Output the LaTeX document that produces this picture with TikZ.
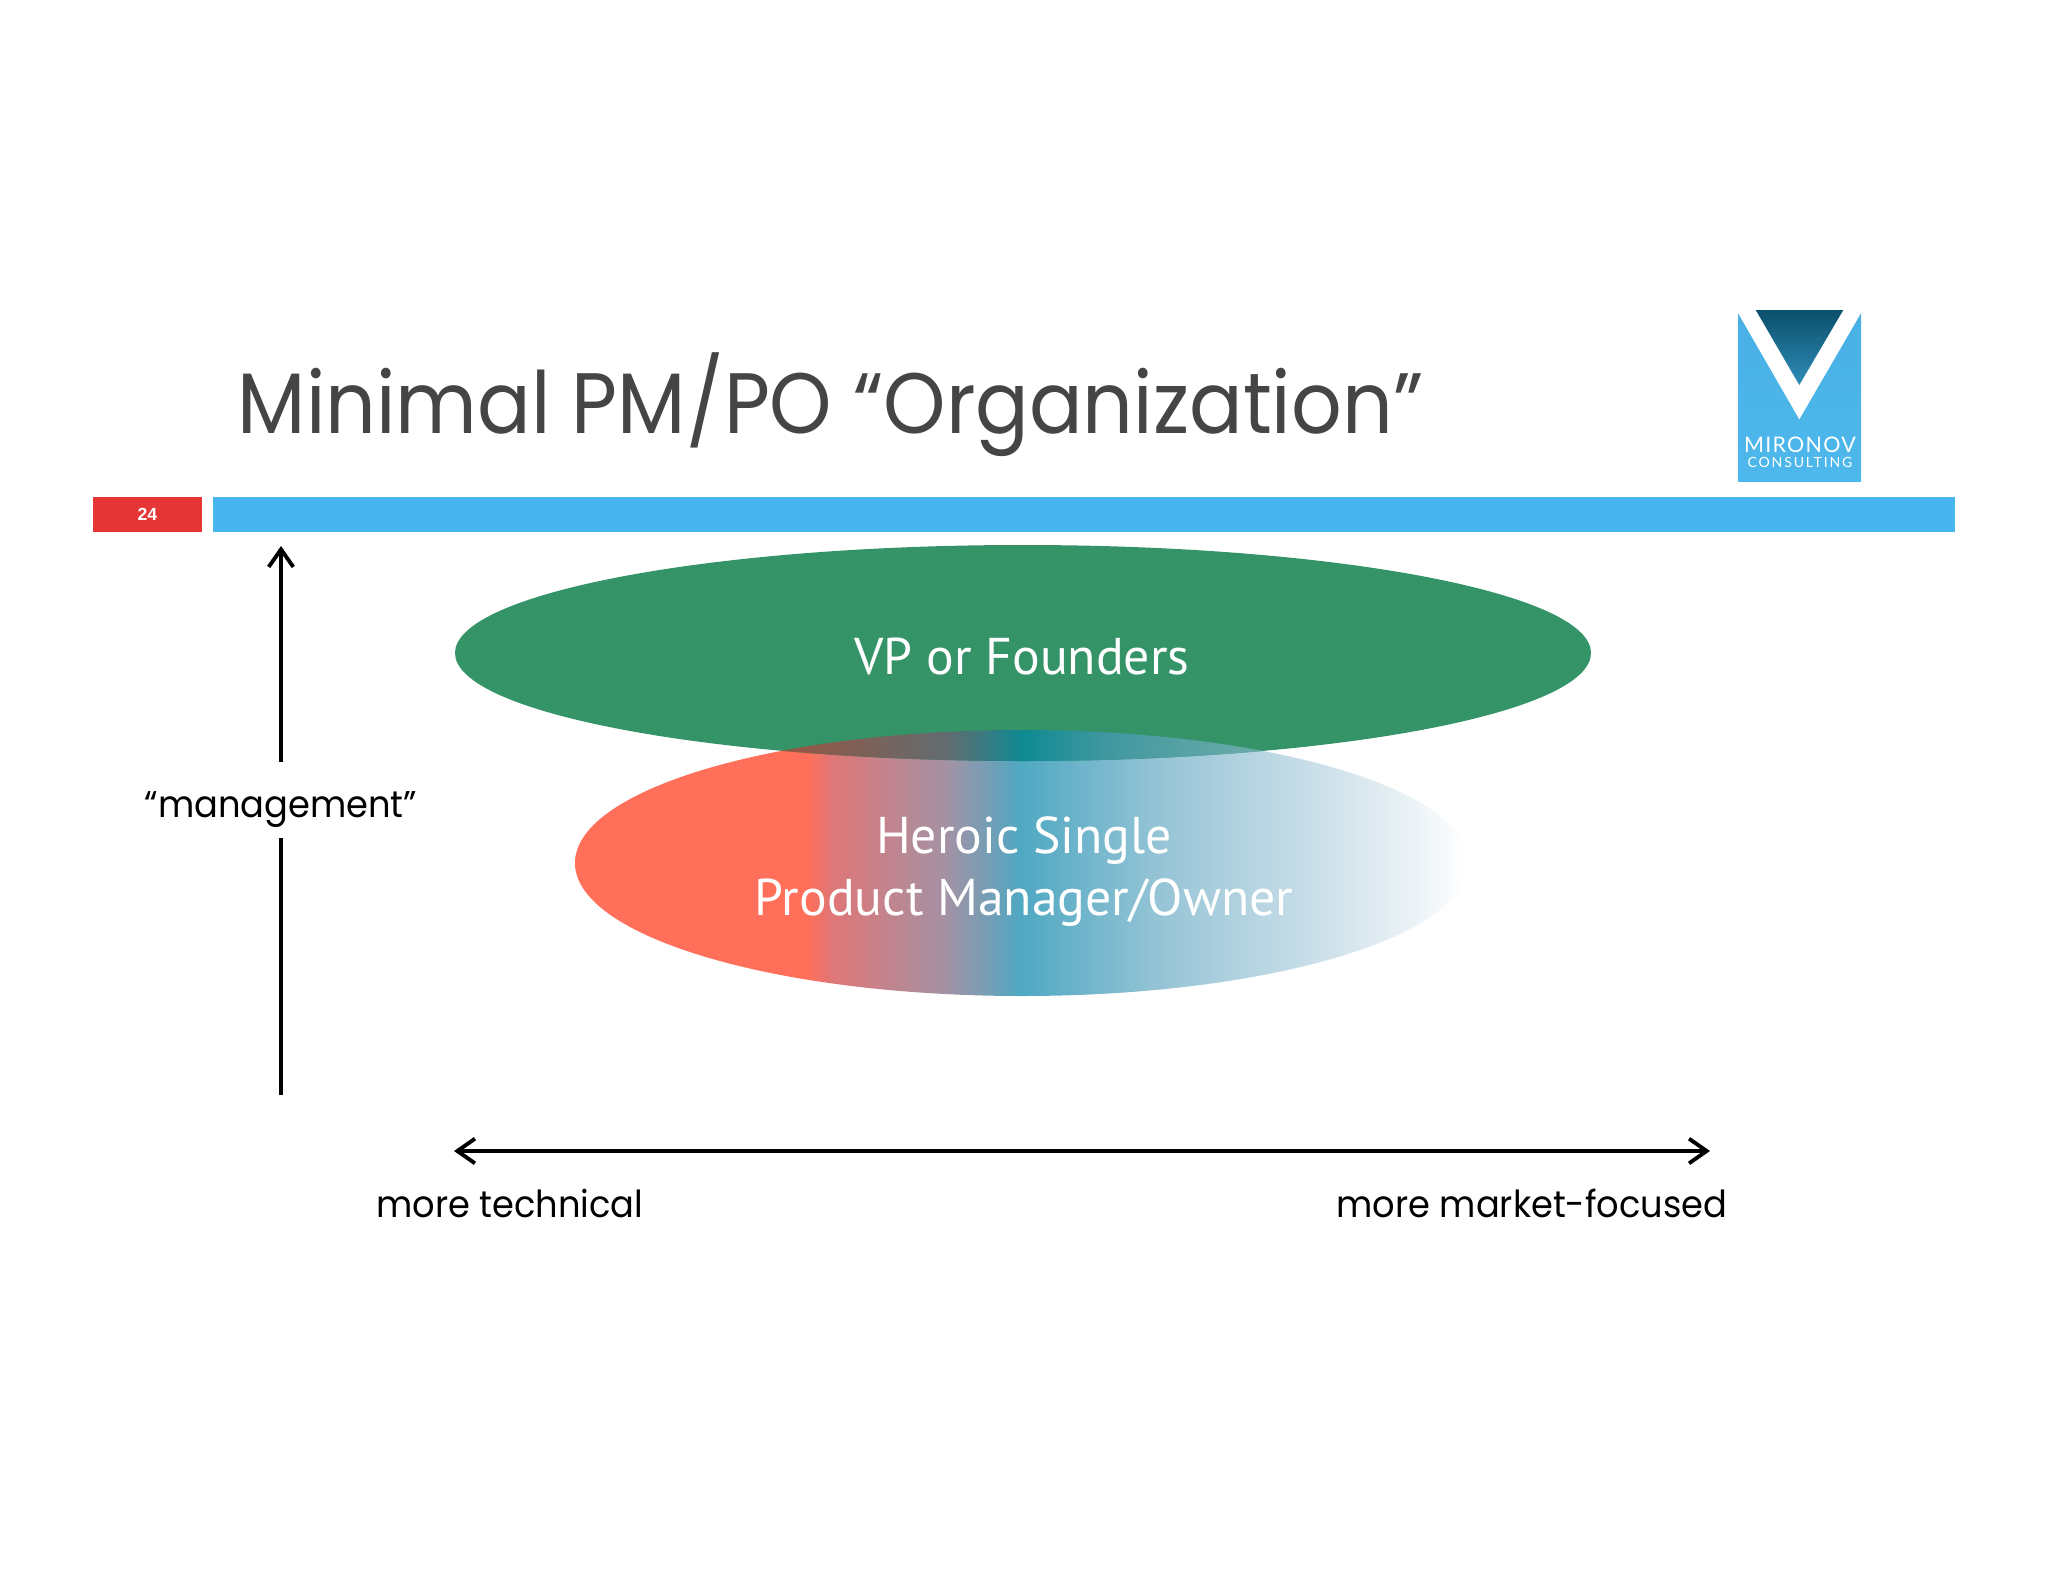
\documentclass[tikz,border=0pt]{standalone}
\usepackage{fontspec}
\setmainfont{Poppins}
\newfontfamily\titlefont[FakeStretch=0.925]{Poppins}
\newfontfamily\axisfont[FakeStretch=0.945]{Poppins}
\newfontfamily\labelfont{PT Sans}
\newfontfamily\pagefont{Liberation Sans}
\newfontfamily\logofont[LetterSpace=6]{Lato}
\newfontfamily\logofontwide[LetterSpace=13]{Lato}
\usetikzlibrary{arrows.meta,shapes.geometric}
\definecolor{barblue}{HTML}{48B5EE}
\definecolor{barred}{HTML}{E53535}
\definecolor{vpgreen}{HTML}{349367}
\definecolor{titlegray}{HTML}{454545}
\definecolor{hA}{HTML}{FF6F59}
\definecolor{hB}{HTML}{E07676}
\definecolor{hC}{HTML}{A392A5}
\definecolor{hD}{HTML}{4FA8C2}
\definecolor{hE}{HTML}{96C4D6}
\definecolor{hF}{HTML}{D4E4EC}
\definecolor{oA}{HTML}{BE4E2C}
\definecolor{oB}{HTML}{8B5A4A}
\definecolor{oC}{HTML}{626C70}
\definecolor{oD}{HTML}{0E8A92}
\definecolor{oE}{HTML}{3F97A0}
\definecolor{oF}{HTML}{6AABA8}
\definecolor{logoA}{HTML}{50BCF0}
\definecolor{logoB}{HTML}{46ACE0}
\definecolor{darkA}{HTML}{2F8DB8}
\definecolor{darkB}{HTML}{0B4F6C}
\pgfdeclarehorizontalshading{heroicfill}{100bp}{
  color(0bp)=(hA); color(38bp)=(hA); color(39.3bp)=(hB); color(45.8bp)=(hC);
  color(49.9bp)=(hD); color(57.7bp)=(hE); color(68bp)=(hF);
  color(75bp)=(white); color(100bp)=(white)}
\pgfdeclarehorizontalshading{overlapfill}{100bp}{
  color(0bp)=(oA); color(33bp)=(oA); color(38.5bp)=(oB); color(45.8bp)=(oC);
  color(50bp)=(oD); color(54.5bp)=(oE); color(63bp)=(oF); color(100bp)=(oF)}
\pgfdeclareverticalshading{logoback}{100bp}{
  color(0bp)=(logoA); color(100bp)=(logoB)}
\pgfdeclareverticalshading{logodark}{100bp}{
  color(0bp)=(darkA); color(25bp)=(darkA); color(75bp)=(darkB); color(100bp)=(darkB)}
\tikzset{
  axistip/.tip={Straight Barb[length=5pt,width=7pt,line width=1.1pt]},
  axisline/.style={line width=0.9pt,axistip-axistip},
  upline/.style={line width=0.9pt,-axistip},
  axislabel/.style={font=\axisfont\fontsize{10.6}{13}\selectfont,text=black,inner sep=0pt},
  ovaltext/.style={font=\labelfont\fontsize{14.7}{17.6}\selectfont,text=white,align=center,inner sep=0pt},
  logotext/.style={text=white,inner sep=0pt,anchor=base}
}
\begin{document}
\begin{tikzpicture}[x=0.01cm,y=-0.01cm]
\useasboundingbox (0,0) rectangle (2048,1582);
% header
\node[anchor=base west,inner sep=0pt,text=titlegray,font=\titlefont\fontsize{24.4}{29}\selectfont] (title) at (237,433) {Minimal PM/PO “Organization”};
\fill[barred] (93,497) rectangle (202,532);
\fill[barblue] (213,497) rectangle (1955,532);
\node[text=white,font=\pagefont\bfseries\fontsize{5}{6}\selectfont,inner sep=0pt] (page) at (147.5,514) {24};
% logo
\shade[shading=logoback] (1738,313) rectangle (1861,481);
\fill[white] (1738,309) -- (1738,313) -- (1799.3,419.3) -- (1861,313) -- (1861,309) -- cycle;
\shade[shading=logodark] (1755.7,310) -- (1843.3,310) -- (1799.3,385) -- cycle;
\node[logotext,font=\logofont\fontsize{6.1}{7}\selectfont] (logotop) at (1800,452) {MIRONOV};
\node[logotext,font=\logofontwide\fontsize{4}{5}\selectfont] (logobottom) at (1800,467) {CONSULTING};
% ovals
\shade[shading=heroicfill] (1022,863) ellipse [x radius=447,y radius=133];
\fill[vpgreen] (1023,653) ellipse [x radius=568,y radius=108];
\begin{scope}
\clip (1023,653) ellipse [x radius=568,y radius=108];
\shade[shading=overlapfill] (1022,863) ellipse [x radius=447,y radius=133];
\end{scope}
\node[ovaltext] (vp) at (1022,657) {VP or Founders};
\node[ovaltext] (heroic) at (1024,872) {Heroic Single\\Product Manager/Owner};
% axes
\node[axislabel] (mgmt) at (281,810) {“management”};
\coordinate (ybottom) at (281,1095);
\coordinate (ytop) at (281,546);
\draw[line width=0.9pt] (ybottom) -- (281,838);
\draw[upline] (281,762) -- (ytop);
\coordinate (xleft) at (454,1151);
\coordinate (xright) at (1710,1151);
\draw[axisline] (xleft) -- (xright);
\node[axislabel] (tech) at (510,1203) {more technical};
\node[axislabel] (market) at (1532,1203) {more market-focused};
\end{tikzpicture}
\end{document}
